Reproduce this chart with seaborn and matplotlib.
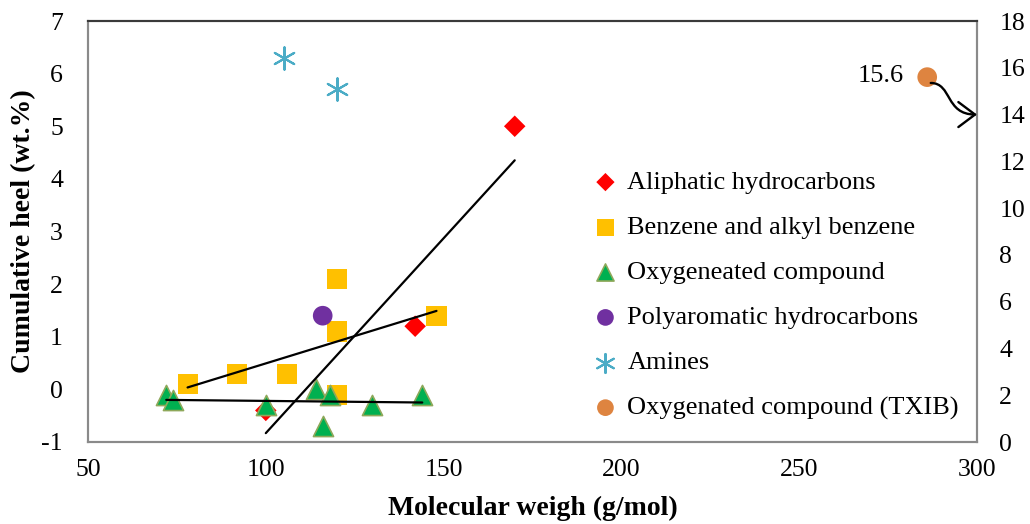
import numpy as np
import pandas as pd
import matplotlib
matplotlib.use("Agg")
import matplotlib.pyplot as plt
import seaborn as sns
from matplotlib.patches import FancyArrowPatch
from matplotlib.path import Path

# ---- data ----
aliph_mw = [100, 142, 170]
aliph_val = [-0.4, 1.2, 5.0]
benz_mw = [78, 92, 106, 120, 120, 120, 148]
benz_val = [0.1, 0.3, 0.3, 2.1, 1.1, -0.1, 1.4]
oxy_mw = [72, 74, 100, 114, 118, 116, 130, 144]
oxy_val = [-0.1, -0.2, -0.3, 0.0, -0.1, -0.7, -0.3, -0.1]
pah_mw = [116]
pah_val = [1.4]
amine_mw = [105, 120]
amine_val = [6.3, 5.7]
txib_mw = [286]
txib_val = [15.6]

left_ticks = [-1, 0, 1, 2, 3, 4, 5, 6, 7]
right_ticks = [0, 2, 4, 6, 8, 10, 12, 14, 16, 18]
x_ticks = [50, 100, 150, 200, 250, 300]

sns.set_style("white")
plt.rcParams['font.family'] = ['Liberation Serif', 'DejaVu Serif']
plt.rcParams['text.color'] = 'black'
plt.rcParams['axes.labelcolor'] = 'black'

fig = plt.figure(figsize=(10.30, 5.24), dpi=100)
ax = fig.add_axes([88/1030, 1-442/524, (977-88)/1030, (442-21)/524])
ax2 = ax.twinx()

sns.scatterplot(x=aliph_mw, y=aliph_val, ax=ax, marker='D', s=120, color='#FF0000',
                edgecolor='none', linewidth=0, label='Aliphatic hydrocarbons', zorder=3)
sns.scatterplot(x=benz_mw, y=benz_val, ax=ax, marker='s', s=210, color='#FFC000',
                edgecolor='none', linewidth=0, label='Benzene and alkyl benzene', zorder=3)
sns.scatterplot(x=oxy_mw, y=oxy_val, ax=ax, marker='^', s=210, color='#00B050',
                edgecolor='#8EA85A', linewidth=1.2, label='Oxygeneated compound', zorder=3)
sns.scatterplot(x=pah_mw, y=pah_val, ax=ax, marker='o', s=200, color='#7030A0',
                edgecolor='none', linewidth=0, label='Polyaromatic hydrocarbons', zorder=3)
sns.scatterplot(x=amine_mw, y=amine_val, ax=ax, marker=(6, 2, 0), s=260, color='#4BACC6',
                linewidth=1.5, label='Amines', zorder=3)
sns.scatterplot(x=txib_mw, y=txib_val, ax=ax2, marker='o', s=200, color='#DE8440',
                edgecolor='none', linewidth=0, label='Oxygenated compound (TXIB)', zorder=3)

for xs, ys in [(aliph_mw, aliph_val), (benz_mw, benz_val), (oxy_mw, oxy_val)]:
    sns.regplot(x=xs, y=ys, ax=ax, scatter=False, ci=None, truncate=True,
                line_kws=dict(color='black', lw=1.6, zorder=4))

ax.set_xlim(50, 300)
ax.set_ylim(-1, 7)
ax2.set_ylim(0, 18)
ax.set_xticks(x_ticks)
ax.set_xticklabels([str(t) for t in x_ticks])
ax.set_yticks(left_ticks)
ax.set_yticklabels([str(t) for t in left_ticks])
ax2.set_yticks(right_ticks)
ax2.set_yticklabels([str(t) for t in right_ticks])

ax.tick_params(axis='both', length=0, labelsize=18.5, colors='black')
ax.tick_params(axis='x', pad=12)
ax.tick_params(axis='y', pad=18)
ax2.tick_params(axis='y', length=0, labelsize=18.5, pad=16, colors='black')

ax.set_xlabel('Molecular weigh (g/mol)', fontsize=20, fontweight='bold', labelpad=11)
ax.set_ylabel('Cumulative heel (wt.%)', fontsize=20, fontweight='bold', labelpad=4)

for a in (ax, ax2):
    for name, sp in a.spines.items():
        sp.set_visible(True)
        sp.set_linewidth(1.5)
        sp.set_color('#3a3a3a' if name == 'top' else '#8a8a8a')

# annotation for TXIB
ax2.text(279.5, 15.65, '15.6', fontsize=19, ha='right', va='center')
p = Path([(287.0, 15.35), (293.0, 15.35), (291.0, 14.0), (300.0, 14.0)],
         [Path.MOVETO, Path.CURVE4, Path.CURVE4, Path.CURVE4])
arr = FancyArrowPatch(path=p, arrowstyle='->,head_length=0.6,head_width=0.45',
                      mutation_scale=20, lw=1.7, color='black',
                      transform=ax2.transData, clip_on=False, zorder=5)
ax2.add_patch(arr)

# combined legend
h1, l1 = ax.get_legend_handles_labels()
h2, l2 = ax2.get_legend_handles_labels()
if ax.get_legend() is not None:
    ax.get_legend().remove()
if ax2.get_legend() is not None:
    ax2.get_legend().remove()
ax.legend(h1 + h2, l1 + l2, loc='upper left', bbox_to_anchor=(583/1030, 1-160/524),
          bbox_transform=fig.transFigure, frameon=False, fontsize=19,
          handletextpad=0.38, handlelength=0.9, labelspacing=0.82, borderaxespad=0,
          markerscale=0.85)

fig.savefig('out.png', dpi=100)
